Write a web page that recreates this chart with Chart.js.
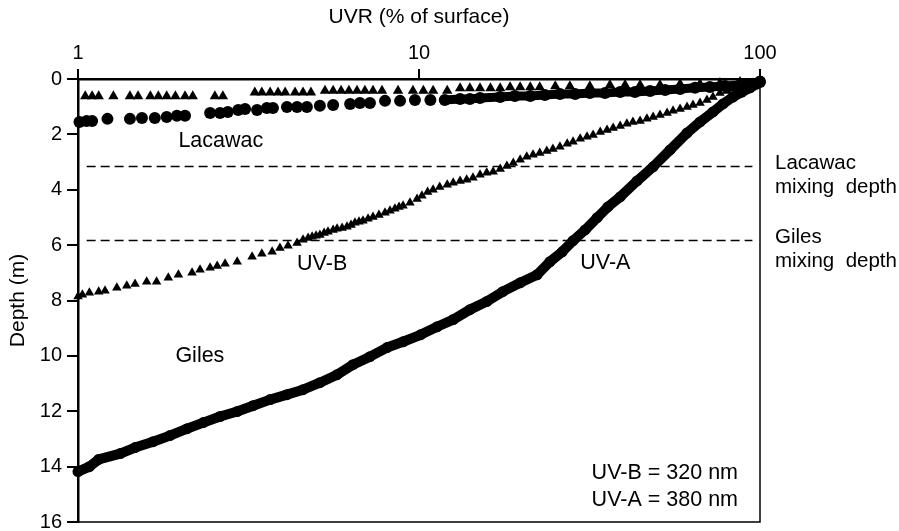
<!DOCTYPE html>
<html>
<head>
<meta charset="utf-8">
<script src="https://cdn.jsdelivr.net/npm/chart.js@4.4.1/dist/chart.umd.min.js"></script>
<style>
  html, body { margin: 0; padding: 0; background: #fff; }
  canvas { display: block; }
</style>
</head>
<body>
<canvas id="chart" width="899" height="531"></canvas>
<script>
// UVR profiles, % of surface irradiance vs depth (m)
const giUvaPct = [1.00, 1.08, 1.15, 1.33, 1.47, 1.66, 1.86, 2.09, 2.33, 2.61, 2.93, 3.26, 3.66, 4.10, 4.57, 5.12, 5.75, 6.40, 7.18, 8.06, 8.98, 10.1, 11.3, 12.6, 14.1, 15.8, 17.6, 19.8, 22.2, 24.2, 26.3, 28.3, 30.7, 33.3, 35.8, 38.9, 43.6, 48.6, 54.5, 61.1, 66.7, 72.8, 77.9, 83.3, 88.5, 93.5, 98.0, 100];
const giUvaDepth = [14.18, 14.00, 13.74, 13.53, 13.31, 13.10, 12.88, 12.63, 12.41, 12.19, 12.01, 11.80, 11.58, 11.40, 11.22, 10.97, 10.68, 10.32, 10.03, 9.70, 9.49, 9.24, 8.95, 8.69, 8.33, 8.04, 7.68, 7.36, 7.07, 6.60, 6.24, 5.84, 5.45, 5.01, 4.62, 4.26, 3.68, 3.17, 2.56, 1.95, 1.55, 1.19, 0.90, 0.65, 0.47, 0.32, 0.18, 0.07];

const giUvbPct = [1.00, 1.03, 1.08, 1.15, 1.20, 1.30, 1.39, 1.47, 1.59, 1.70, 1.84, 1.97, 2.16, 2.28, 2.44, 2.56, 2.70, 2.93, 3.24, 3.46, 3.71, 3.91, 4.13, 4.39, 4.57, 4.73, 4.86, 4.99, 5.12, 5.27, 5.41, 5.60, 5.75, 5.95, 6.15, 6.32, 6.49, 6.67, 6.85, 7.09, 7.33, 7.63, 7.95, 8.22, 8.50, 8.74, 8.98, 9.41, 9.87, 10.2, 10.6, 11.0, 11.5, 12.1, 12.6, 13.2, 13.8, 14.4, 15.1, 15.8, 16.5, 17.3, 18.1, 18.9, 19.8, 20.7, 21.6, 22.6, 23.7, 24.7, 25.9, 27.2, 28.3, 29.7, 31.1, 32.4, 34.0, 35.6, 37.1, 38.9, 40.7, 42.4, 44.5, 46.6, 48.6, 50.9, 53.4, 55.6, 58.3, 61.1, 63.6, 66.7, 69.9, 72.8, 76.3, 80.0, 83.3, 87.4, 91.6, 95.4, 100];
const giUvbDepth = [7.86, 7.79, 7.72, 7.68, 7.65, 7.54, 7.47, 7.40, 7.32, 7.32, 7.18, 7.07, 7.00, 6.89, 6.82, 6.75, 6.67, 6.60, 6.42, 6.31, 6.24, 6.10, 6.02, 5.92, 5.81, 5.74, 5.70, 5.66, 5.63, 5.56, 5.52, 5.45, 5.41, 5.38, 5.34, 5.27, 5.19, 5.16, 5.12, 5.05, 4.98, 4.91, 4.83, 4.76, 4.69, 4.62, 4.58, 4.47, 4.33, 4.22, 4.08, 4.00, 3.90, 3.82, 3.75, 3.68, 3.64, 3.57, 3.46, 3.39, 3.35, 3.25, 3.14, 3.03, 2.92, 2.81, 2.74, 2.67, 2.60, 2.53, 2.45, 2.34, 2.27, 2.16, 2.09, 2.02, 1.91, 1.84, 1.77, 1.70, 1.62, 1.55, 1.52, 1.44, 1.37, 1.30, 1.23, 1.15, 1.08, 1.01, 0.94, 0.87, 0.76, 0.65, 0.51, 0.43, 0.36, 0.29, 0.22, 0.14, 0.11];

const laUvaPct = [1.01, 1.06, 1.10, 1.22, 1.42, 1.54, 1.68, 1.82, 1.95, 2.06, 2.44, 2.61, 2.75, 2.95, 3.09, 3.35, 3.58, 3.73, 4.10, 4.39, 4.69, 5.12, 5.60, 6.28, 6.71, 7.18, 7.95, 8.80, 9.73, 10.8, 11.9, 13.2, 14.1, 15.1, 17.3, 19.1, 21.2, 23.4, 25.9, 28.7, 31.7, 35.1, 38.9, 43.0, 47.6, 52.7, 58.3, 64.5, 71.3, 78.9, 87.4, 93.5, 100];
const laUvaDepth = [1.55, 1.52, 1.52, 1.44, 1.44, 1.41, 1.41, 1.37, 1.33, 1.33, 1.23, 1.23, 1.19, 1.12, 1.08, 1.12, 1.05, 1.05, 1.01, 1.01, 1.01, 0.97, 0.94, 0.90, 0.87, 0.87, 0.79, 0.79, 0.76, 0.76, 0.76, 0.72, 0.72, 0.69, 0.65, 0.61, 0.61, 0.58, 0.54, 0.54, 0.51, 0.51, 0.47, 0.47, 0.43, 0.40, 0.36, 0.32, 0.29, 0.25, 0.22, 0.18, 0.11];

const laUvbPct = [1.05, 1.10, 1.15, 1.27, 1.42, 1.50, 1.63, 1.72, 1.82, 1.93, 2.06, 2.17, 2.52, 2.66, 3.30, 3.46, 3.66, 3.86, 4.05, 4.33, 4.57, 4.82, 5.30, 5.60, 5.91, 6.23, 6.58, 6.94, 7.33, 7.79, 8.68, 9.60, 10.3, 11.0, 12.1, 13.2, 14.1, 15.1, 16.2, 17.3, 18.5, 19.8, 21.2, 22.6, 25.1, 27.7, 31.7, 36.3, 40.2, 44.5, 50.9, 58.3, 66.7, 76.3, 87.4, 100];
const laUvbDepth = [0.62, 0.62, 0.62, 0.62, 0.62, 0.62, 0.62, 0.62, 0.62, 0.62, 0.62, 0.62, 0.62, 0.62, 0.49, 0.49, 0.49, 0.49, 0.49, 0.49, 0.49, 0.49, 0.42, 0.42, 0.42, 0.42, 0.42, 0.42, 0.42, 0.42, 0.42, 0.42, 0.42, 0.42, 0.42, 0.33, 0.33, 0.33, 0.33, 0.33, 0.30, 0.30, 0.30, 0.30, 0.26, 0.26, 0.26, 0.22, 0.22, 0.22, 0.22, 0.18, 0.18, 0.14, 0.11, 0.07];

// mixing depths (m) and the UVR span of their dashed lines
const mixNames = ['Lacawac', 'Giles'];
const mixDepths = [3.16, 5.83];
const mixSpan = [1.06, 95];

const xTicks = [1, 10, 100];
const yMax = 16;

const FONT = "'Liberation Sans', Arial, Helvetica, sans-serif";

const pts = (xs, ys) => xs.map((v, i) => ({ x: v, y: ys[i] }));

const datasets = [
  {
    label: 'Giles UV-A',
    data: pts(giUvaPct, giUvaDepth),
    showLine: true,
    borderColor: '#000',
    borderWidth: 10,
    borderJoinStyle: 'round',
    pointStyle: 'circle',
    pointRadius: 5.5,
    pointBorderWidth: 0,
    backgroundColor: '#000',
    clip: false
  },
  {
    label: 'Giles UV-B',
    data: pts(giUvbPct, giUvbDepth),
    pointStyle: 'triangle',
    pointRadius: 5.5,
    pointBorderWidth: 0,
    backgroundColor: '#000',
    borderColor: '#000',
    clip: false
  },
  {
    label: 'Lacawac UV-A',
    data: pts(laUvaPct, laUvaDepth),
    showLine: true,
    borderColor: '#000',
    borderWidth: 9,
    // the readings run together into a band above ~11 %
    segment: { borderColor: c => (c.p0.parsed.x < 11 ? 'rgba(0,0,0,0)' : '#000') },
    pointStyle: 'circle',
    pointRadius: 6,
    pointBorderWidth: 0,
    backgroundColor: '#000',
    clip: false
  },
  {
    label: 'Lacawac UV-B',
    data: pts(laUvbPct, laUvbDepth),
    pointStyle: 'triangle',
    pointRadius: 6,
    pointBorderWidth: 0,
    backgroundColor: '#000',
    borderColor: '#000',
    clip: false
  }
];

mixDepths.forEach((d, i) => {
  datasets.push({
    label: mixNames[i] + ' mixing depth',
    data: [{ x: mixSpan[0], y: d }, { x: mixSpan[1], y: d }],
    showLine: true,
    borderColor: '#000',
    borderWidth: 1.5,
    borderDash: [9, 5],
    pointRadius: 0
  });
});

// text placed inside the plot, anchored to data coordinates
const plotText = [
  { text: 'Lacawac', x: 1.97, y: 2.24, align: 'left' },
  { text: 'Giles', x: 1.93, y: 9.99, align: 'left' },
  { text: 'UV-B', x: 4.39, y: 6.67, align: 'left' },
  { text: 'UV-A', x: 29.7, y: 6.64, align: 'left' },
  { text: 'UV-B = 320 nm', x: 86.2, y: 14.25, align: 'right' },
  { text: 'UV-A = 380 nm', x: 86.2, y: 15.22, align: 'right' }
];

const decorations = {
  id: 'decorations',
  afterDraw(chart) {
    const { ctx, chartArea: a, scales: { x, y } } = chart;
    ctx.save();
    ctx.strokeStyle = '#000';
    ctx.lineWidth = 1.5;
    ctx.beginPath();
    ctx.moveTo(a.right, a.top);
    ctx.lineTo(a.right, a.bottom);
    ctx.lineTo(a.left, a.bottom);
    ctx.stroke();

    ctx.fillStyle = '#000';
    ctx.font = '21.5px ' + FONT;
    ctx.textBaseline = 'middle';
    plotText.forEach(t => {
      ctx.textAlign = t.align;
      ctx.fillText(t.text, x.getPixelForValue(t.x), y.getPixelForValue(t.y));
    });

    // notes beside the frame for each mixing depth
    ctx.font = '20.5px ' + FONT;
    ctx.textAlign = 'left';
    mixDepths.forEach((d, i) => {
      const py = y.getPixelForValue(d);
      ctx.fillText(mixNames[i], a.right + 15, py - 3);
      ctx.fillText('mixing  depth', a.right + 15, py + 21);
    });
    ctx.restore();
  }
};

new Chart(document.getElementById('chart'), {
  type: 'scatter',
  data: { datasets },
  options: {
    responsive: false,
    animation: false,
    events: [],
    layout: { padding: { left: 0, top: 0, right: 139, bottom: 9 } },
    plugins: { legend: { display: false }, tooltip: { enabled: false } },
    scales: {
      x: {
        type: 'logarithmic',
        position: 'top',
        min: 1,
        max: 100,
        afterBuildTicks: s => { s.ticks = xTicks.map(v => ({ value: v })); },
        afterFit: s => { s.height = 79; s.paddingLeft = 0; s.paddingRight = 0; },
        ticks: {
          color: '#000',
          font: { family: FONT, size: 20 },
          padding: 4,
          maxRotation: 0,
          callback: v => String(v)
        },
        grid: { drawOnChartArea: false, color: '#000', lineWidth: 2, tickLength: 10 },
        border: { color: '#000', width: 2.5 },
        title: {
          display: true,
          text: 'UVR (% of surface)',
          color: '#000',
          font: { family: FONT, size: 21 },
          padding: { top: 5, bottom: 0 }
        }
      },
      y: {
        type: 'linear',
        reverse: true,
        min: 0,
        max: yMax,
        afterFit: s => { s.width = 78; s.paddingTop = 0; s.paddingBottom = 0; },
        ticks: {
          stepSize: 2,
          color: '#000',
          font: { family: FONT, size: 20 },
          padding: 5
        },
        grid: { drawOnChartArea: false, color: '#000', lineWidth: 2, tickLength: 11 },
        border: { color: '#000', width: 2.5 },
        title: {
          display: true,
          text: 'Depth (m)',
          color: '#000',
          font: { family: FONT, size: 21 },
          padding: { top: 6, bottom: 0 }
        }
      }
    }
  },
  plugins: [decorations]
});
</script>
</body>
</html>
